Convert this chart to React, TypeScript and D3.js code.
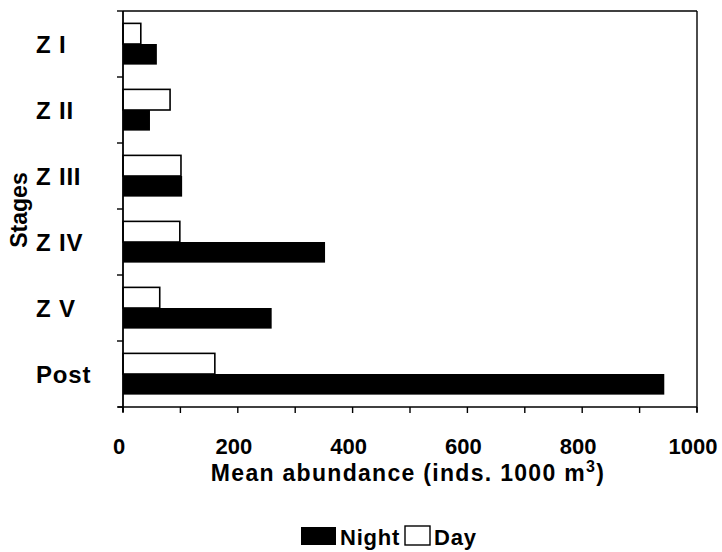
import React from "react";
import * as d3 from "d3";

const categories = ["Z I", "Z II", "Z III", "Z IV", "Z V", "Post"];
const seriesNames = ["Day", "Night"];
const dayValues = [31, 82, 101, 99, 64, 160];
const nightValues = [59, 47, 103, 352, 259, 943];
const xTickLabels = [0, 200, 400, 600, 800, 1000];
const xMinorTicks = [0, 100, 200, 300, 400, 500, 600, 700, 800, 900, 1000];

const W = 722;
const H = 552;
const M = { left: 123, right: 697, top: 11, bottom: 407 };
const FONT = "'Liberation Sans', Arial, sans-serif";

export default function App() {
  const x = d3.scaleLinear().domain([0, 1000]).range([M.left, M.right]);
  const y = d3.scaleBand<string>().domain(categories).range([M.top, M.bottom]).padding(0);
  const inner = d3
    .scaleBand<string>()
    .domain(seriesNames)
    .range([0, y.bandwidth()])
    .paddingInner(0)
    .paddingOuter(0.6);

  const rows = categories.map((c, i) => ({ c, day: dayValues[i], night: nightValues[i] }));
  const boundaries = [M.top, ...categories.map((c) => (y(c) as number) + y.bandwidth())];

  return (
    <svg
      width={W}
      height={H}
      style={{ position: "absolute", left: 0, top: 0, background: "#fff" }}
      fontFamily={FONT}
    >
      <rect x={0} y={0} width={W} height={H} fill="#fff" />
      {/* bars */}
      {rows.map((r) => {
        const y0 = y(r.c) as number;
        return (
          <g key={r.c}>
            <rect
              x={x(0)}
              y={y0 + (inner("Day") as number)}
              width={x(r.day) - x(0)}
              height={inner.bandwidth()}
              fill="#fff"
              stroke="#000"
              strokeWidth={1.6}
            />
            <rect
              x={x(0)}
              y={y0 + (inner("Night") as number)}
              width={x(r.night) - x(0)}
              height={inner.bandwidth()}
              fill="#000"
            />
          </g>
        );
      })}
      {/* frame */}
      <line x1={M.left} x2={M.right} y1={M.top} y2={M.top} stroke="#000" strokeWidth={1.4} />
      <line x1={M.right} x2={M.right} y1={M.top} y2={M.bottom + 5} stroke="#000" strokeWidth={1.4} />
      <line x1={M.left} x2={M.left} y1={M.top} y2={M.bottom + 5} stroke="#000" strokeWidth={1.8} />
      <line x1={M.left - 5} x2={M.right} y1={M.bottom} y2={M.bottom} stroke="#000" strokeWidth={1.6} />
      {/* y ticks */}
      {boundaries.map((b, i) => (
        <line key={i} x1={M.left - 6} x2={M.left} y1={b} y2={b} stroke="#000" strokeWidth={1.4} />
      ))}
      {/* x ticks */}
      {xMinorTicks.map((t) => (
        <line key={t} x1={x(t)} x2={x(t)} y1={M.bottom} y2={M.bottom + 6} stroke="#000" strokeWidth={1.4} />
      ))}
      {/* category labels */}
      {categories.map((c) => (
        <text
          key={c}
          x={36}
          y={(y(c) as number) + y.bandwidth() / 2}
          dy="0.36em"
          fontSize={24}
          fontWeight="bold"
          letterSpacing={0.8}
          fill="#000"
        >
          {c}
        </text>
      ))}
      {/* x tick labels */}
      {xTickLabels.map((t) => (
        <text
          key={t}
          x={x(t) - 4}
          y={454}
          textAnchor="middle"
          fontSize={22}
          fontWeight="bold"
          fill="#000"
        >
          {t}
        </text>
      ))}
      {/* axis titles */}
      <text
        x={408}
        y={481}
        textAnchor="middle"
        fontSize={23}
        fontWeight="bold"
        letterSpacing={1.3}
        fill="#000"
      >
        Mean abundance (inds. 1000 m
        <tspan dy={-9} fontSize={16}>3</tspan>
        <tspan dy={9}>)</tspan>
      </text>
      <text
        transform="translate(27,210) rotate(-90)"
        textAnchor="middle"
        fontSize={23}
        fontWeight="bold"
        fill="#000"
      >
        Stages
      </text>
      {/* legend */}
      <rect x={301} y={527} width={35} height={18} fill="#000" />
      <text x={340} y={545} fontSize={22} fontWeight="bold" letterSpacing={0.8} fill="#000">
        Night
      </text>
      <rect x={405} y={526} width={25} height={19} fill="#fff" stroke="#000" strokeWidth={1.4} />
      <text x={434} y={545} fontSize={22} fontWeight="bold" letterSpacing={0.8} fill="#000">
        Day
      </text>
    </svg>
  );
}
